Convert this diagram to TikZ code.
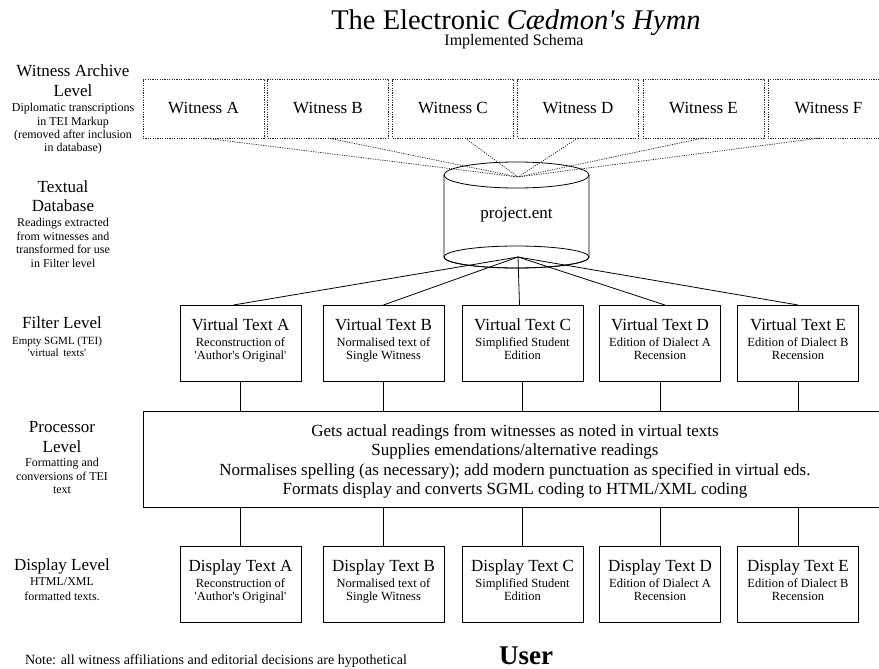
\documentclass[tikz,border=0pt]{standalone}
\usepackage{fontspec}
\setmainfont{Liberation Serif}
\newcommand\setfs[1]{\fontsize{#1}{#1}\selectfont}
\newcommand\sq{\textquotesingle}

% a framed text panel: name, centre x, top y, title, two description lines
\newcommand\textpanel[6]{%
  \node[panel] (#1) at (#2,#3+38) {};
  \node[paneltitle] (#1-title) at (#2,#3+25) {#4};
  \node[panelsub] (#1-l1) at (#2,#3+41) {#5};
  \node[panelsub] (#1-l2) at (#2,#3+54) {#6};
}

\begin{document}
\begin{tikzpicture}[x=1pt,y=-1pt,
  every node/.style={inner sep=0pt, outer sep=0pt},
  solidline/.style={draw=black, line width=0.8pt},
  dotline/.style={draw=black!85, line width=0.7pt, dash pattern=on 1.2pt off 1.2pt},
  witness/.style={dotline, minimum width=121pt, minimum height=59pt, font=\setfs{17}},
  panel/.style={solidline, minimum width=121pt, minimum height=76pt},
  paneltitle/.style={anchor=base, font=\setfs{17}},
  panelsub/.style={anchor=base, font=\setfs{12.5}},
  lhead/.style={anchor=base, font=\setfs{17}},
  lsmall/.style={anchor=base, font=\setfs{12}},
  proctext/.style={anchor=base, font=\setfs{17}},
]
\fill[white] (0,0) rectangle (879,669);
\useasboundingbox (0,0) rectangle (879,669);

% heading
\node[anchor=base, font=\setfs{28.5}, text depth=0pt] (title) at (516,30) {The Electronic \textit{Cædmon\sq s Hymn}};
\node[anchor=base, font=\setfs{16}] (subtitle) at (514,46) {Implemented Schema};

% level descriptions on the left
\node[lhead] (wa1) at (73,77) {Witness Archive};
\node[lhead] (wa2) at (73,96) {Level};
\node[lsmall] (wa3) at (73,112) {Diplomatic transcriptions};
\node[lsmall] (wa4) at (73,125) {in TEI Markup};
\node[lsmall] (wa5) at (73,139) {(removed after inclusion};
\node[lsmall] (wa6) at (73,151) {in database)};

\node[lhead] (td1) at (63,192) {Textual};
\node[lhead] (td2) at (63,211) {Database};
\node[lsmall] (td3) at (63,226) {Readings extracted};
\node[lsmall] (td4) at (63,240) {from witnesses and};
\node[lsmall] (td5) at (63,253) {transformed for use};
\node[lsmall] (td6) at (63,267) {in Filter level};

\node[lhead] (fl1) at (62,328) {Filter Level};
\node[lsmall, font=\setfs{11}] (fl2) at (57,344) {Empty SGML (TEI)};
\node[lsmall, font=\setfs{11}] (fl3) at (57,356) {\sq virtual\, texts\sq};

\node[lhead] (pl1) at (62,432) {Processor};
\node[lhead] (pl2) at (62,452) {Level};
\node[lsmall] (pl3) at (62,466) {Formatting and};
\node[lsmall] (pl4) at (62,480) {conversions of TEI};
\node[lsmall] (pl5) at (62,493) {text};

\node[lhead] (dl1) at (62,570) {Display Level};
\node[lsmall] (dl2) at (62,585) {HTML/XML};
\node[lsmall] (dl3) at (62,600) {formatted texts.};

% witness archive
\node[witness] (wA) at (203.5,108.5) {Witness A};
\node[witness] (wB) at (328,108.5) {Witness B};
\node[witness] (wC) at (453,108.5) {Witness C};
\node[witness] (wD) at (578,108.5) {Witness D};
\node[witness] (wE) at (703.5,108.5) {Witness E};
\node[witness] (wF) at (828.5,108.5) {Witness F};

% textual database (cylinder)
\coordinate (dbtop) at (516.5,175);
\coordinate (dbbot) at (516.5,257);
\coordinate (dbin) at (518,177);
\coordinate (dbout) at (518,257);
\draw[solidline, fill=white] ([xshift=-72.5pt]dbtop) -- ([xshift=-72.5pt]dbbot)
  arc[start angle=180, end angle=360, x radius=72.5, y radius=-11]
  -- ([xshift=72.5pt]dbtop);
\draw[solidline] (dbtop) ellipse [x radius=72.5, y radius=13];
\draw[solidline] (dbbot) ellipse [x radius=72.5, y radius=11];
\node[anchor=base, font=\setfs{17}] (db) at (516.5,218) {project.ent};

\draw[dotline] (wA.south) -- (dbin);
\draw[dotline] (wB.south) -- (dbin);
\draw[dotline] ([xshift=12pt]wC.south) -- (dbin);
\draw[dotline] (wD.south) -- (dbin);
\draw[dotline] (wE.south) -- (dbin);
\draw[dotline] ([xshift=-8pt]wF.south) -- (dbin);

% filter level
\textpanel{vA}{240.5}{305}{Virtual Text A}{Reconstruction of}{\sq Author\sq s Original\sq}
\textpanel{vB}{383.5}{305}{Virtual Text B}{Normalised text of}{Single Witness}
\textpanel{vC}{522.5}{305}{Virtual Text C}{Simplified Student}{Edition}
\textpanel{vD}{660}{305}{Virtual Text D}{Edition of Dialect A}{Recension}
\textpanel{vE}{798}{305}{Virtual Text E}{Edition of Dialect B}{Recension}

\draw[solidline] (dbout) -- ([xshift=-7pt]vA.north);
\draw[solidline] (dbout) -- (vB.north);
\draw[solidline] (dbout) -- ([xshift=-3pt]vC.north);
\draw[solidline] (dbout) -- ([xshift=5pt]vD.north);
\draw[solidline] (dbout) -- (vE.north);

% processor level
\node[solidline, minimum width=757pt, minimum height=96pt] (proc) at (521.5,459) {};
\node[proctext] (p1) at (515,436) {Gets actual readings from witnesses as noted in virtual texts};
\node[proctext] (p2) at (515,455) {Supplies emendations/alternative readings};
\node[proctext] (p3) at (515,475) {Normalises spelling (as necessary); add modern punctuation as specified in virtual eds.};
\node[proctext] (p4) at (515,494) {Formats display and converts SGML coding to HTML/XML coding};

\foreach \v in {vA,vB,vC,vD,vE}
  \draw[solidline] (\v.south) -- (\v.south |- proc.north);

% display level
\textpanel{dA}{240.5}{546}{Display Text A}{Reconstruction of}{\sq Author\sq s Original\sq}
\textpanel{dB}{383.5}{546}{Display Text B}{Normalised text of}{Single Witness}
\textpanel{dC}{522.5}{546}{Display Text C}{Simplified Student}{Edition}
\textpanel{dD}{660}{546}{Display Text D}{Edition of Dialect A}{Recension}
\textpanel{dE}{798}{546}{Display Text E}{Edition of Dialect B}{Recension}

\foreach \d in {dA,dB,dC,dD,dE}
  \draw[solidline] (\d.north |- proc.south) -- (\d.north);

% footer
\node[anchor=base west, font=\setfs{14}] (note) at (25,664) {Note: all witness affiliations and editorial decisions are hypothetical};
\node[anchor=base, font=\bfseries\setfs{27}] (user) at (526,664) {User};
\end{tikzpicture}
\end{document}
